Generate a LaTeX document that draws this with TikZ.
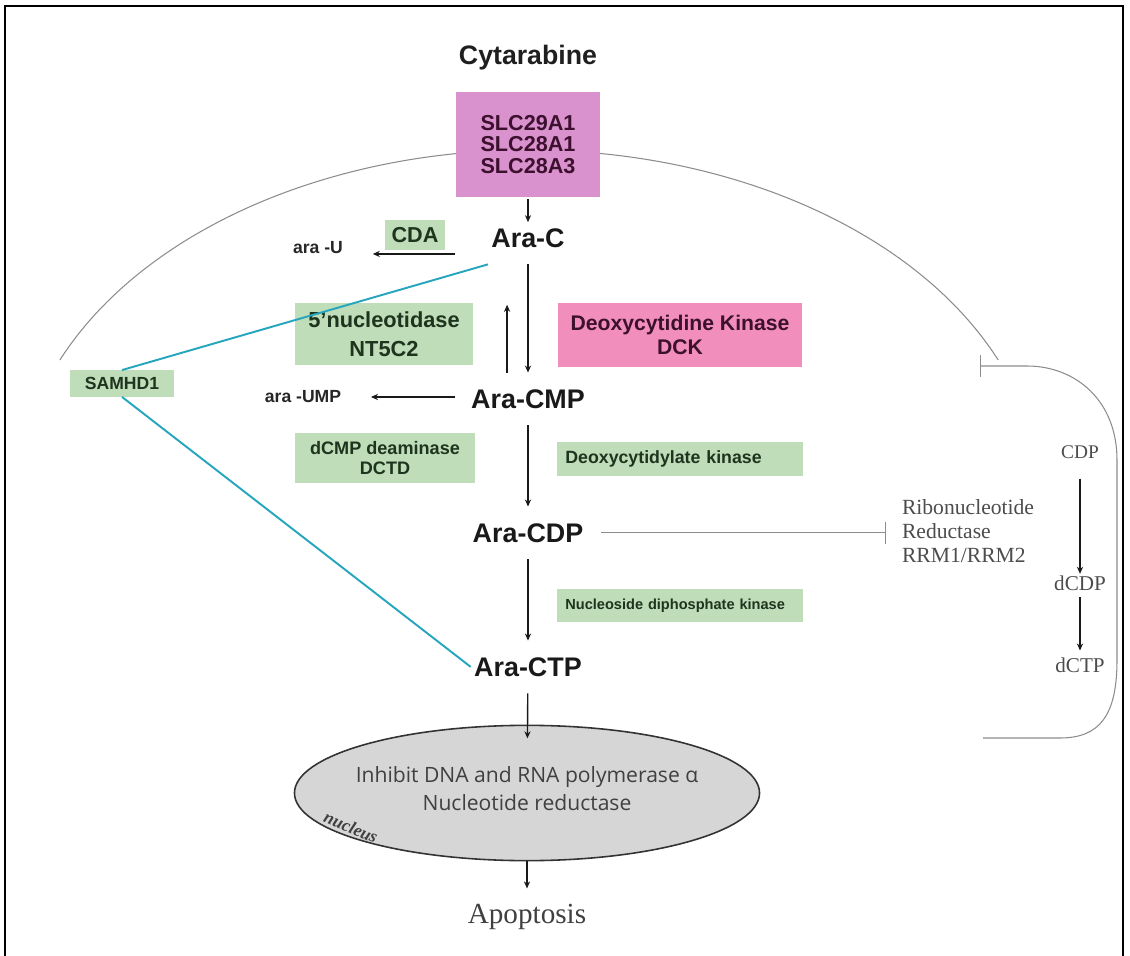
\documentclass[tikz,border=0pt]{standalone}
\usepackage{fontspec}
\setmainfont{Liberation Sans}
\newfontfamily\rmserif{Liberation Serif}
\newfontfamily\opensans{Open Sans}
\usepackage{tikz}
\usetikzlibrary{positioning, arrows.meta, shapes.geometric}
\definecolor{slcpink}{RGB}{217,146,205}
\definecolor{dckpink}{RGB}{242,142,187}
\definecolor{enzgreen}{RGB}{190,221,184}
\definecolor{pinktext}{RGB}{60,16,46}
\definecolor{greentext}{RGB}{30,52,30}
\definecolor{samcyan}{RGB}{38,166,190}
\definecolor{nucgray}{RGB}{214,214,214}
\tikzset{>={Stealth[length=4pt,width=3.5pt]},
         every node/.style={outer sep=0pt},
         mol/.style={font=\fontsize{15.3}{18}\selectfont\bfseries, text=black!90, inner xsep=2pt, inner ysep=9.6pt},
         sidetext/.style={font=\fontsize{10}{12}\selectfont\bfseries, text=black!85, inner sep=2pt},
         enzyme/.style={fill=enzgreen, text=greentext, align=center, inner sep=0pt},
         kinase/.style={fill=dckpink, text=pinktext, align=center, inner sep=0pt},
         rnrtext/.style={text=black!70, inner xsep=2pt, inner ysep=4pt},
         flowarrow/.style={->, line width=0.8pt, black!90},
         cycarrow/.style={->, line width=1.1pt, black!90},
         inhib/.style={-{Bar[width=12.5pt]}, line width=0.6pt, black!45},
         samline/.style={samcyan, line width=1.1pt},
         membrane/.style={black!45, line width=0.6pt},
         }

\begin{document}
\begin{tikzpicture}[x=0.02cm, y=0.02cm]
    \useasboundingbox (0,0) rectangle (1130,-956);
    \begin{scope}
        \clip (0,0) rectangle (1130,-956);
        \draw[line width=1.1pt] (5,-6) rectangle (1123,-975);
    \end{scope}
    \draw[membrane] (998.2,-360) arc[start angle=23.6, end angle=156.4, x radius=512, y radius=350];

    \node[font=\fontsize{15.2}{18}\selectfont\bfseries, text=black!88] (cyt) at (528,-58) {Cytarabine};
    \node[fill=slcpink, text=pinktext, align=center, inner sep=0pt, minimum width=81.6pt, minimum height=59.5pt,
          font=\fontsize{12.3}{12.2}\selectfont\bfseries] (slc) at (528,-144.5) {SLC29A1\\SLC28A1\\SLC28A3};

    \node[mol] (arac) at (528,-238) {Ara-C};
    \node[mol, below of=arac, node distance=3.22cm] (aracmp) {Ara-CMP};
    \node[mol, below of=aracmp, node distance=2.68cm] (aracdp) {Ara-CDP};
    \node[mol, below of=aracdp, node distance=2.68cm] (aractp) {Ara-CTP};

    \node[enzyme, minimum width=34pt, minimum height=17pt, font=\fontsize{12.3}{14}\selectfont\bfseries] (cda) at (415,-235) {CDA};
    \node[sidetext] (arau) at (318,-248) {ara -U};
    \node[enzyme, minimum width=101pt, minimum height=35pt, font=\fontsize{12.4}{16.4}\selectfont\bfseries] (nt5) at (384,-334) {5’nucleotidase\\NT5C2};
    \node[sidetext] (araump) at (303,-397) {ara -UMP};
    \node[enzyme, minimum width=102pt, minimum height=28.3pt, font=\fontsize{10.3}{11.9}\selectfont\bfseries] (dctd) at (385,-458) {dCMP deaminase\\DCTD};
    \node[kinase, minimum width=139pt, minimum height=36.3pt, font=\fontsize{12.05}{13.6}\selectfont\bfseries] (dck) at (680,-335) {Deoxycytidine Kinase\\DCK};
    \node[enzyme, align=left, text width=130.5pt, inner xsep=4.5pt, minimum height=19.3pt, font=\fontsize{10.1}{12}\selectfont\bfseries] (dcyk) at (680,-459) {Deoxycytidylate kinase};
    \node[enzyme, align=left, text width=130.5pt, inner xsep=4.5pt, minimum height=18.7pt, font=\fontsize{8.3}{10}\selectfont\bfseries] (ndpk) at (680,-605.5) {Nucleoside diphosphate kinase};
    \node[enzyme, minimum width=59.5pt, minimum height=15.3pt, font=\fontsize{10}{12}\selectfont\bfseries] (samhd) at (122,-383.5) {SAMHD1};

    \node[rnrtext, align=left, anchor=west, font=\rmserif\fontsize{12.3}{13.6}\selectfont] (rnred) at (898.5,-531) {Ribonucleotide\\Reductase\\RRM1/RRM2};
    \node[rnrtext, font=\rmserif\fontsize{11}{13}\selectfont] (cdp) at (1080,-452) {CDP};
    \node[rnrtext, font=\rmserif\fontsize{12}{14}\selectfont] (dcdp) at (1080,-583) {dCDP};
    \node[rnrtext, font=\rmserif\fontsize{12}{14}\selectfont] (dctp) at (1080,-665) {dCTP};

    \node[ellipse, draw=black!80, fill=nucgray, line width=0.9pt, minimum width=264.7pt, minimum height=77pt, inner sep=0pt] (nucl) at (527,-793) {};
    \node[align=center, text=black!75, inner sep=0pt, font=\opensans\fontsize{12}{16.4}\selectfont] (nuctext) at (527,-788.5) {Inhibit DNA and RNA polymerase α\\Nucleotide reductase};
    \node[rotate=-23, inner sep=0pt, text=black!75, font=\rmserif\itshape\bfseries\fontsize{10}{12}\selectfont] (nuclab) at (351,-827) {nucleus};
    \node[inner sep=0pt, text=black!75, font=\rmserif\fontsize{16.6}{20}\selectfont] (apop) at (527,-917) {Apoptosis};

    \draw[flowarrow, shorten <=1.5pt, shorten >=-6pt] (slc) -- (arac);
    \draw[flowarrow] (arac) -- (aracmp);
    \draw[flowarrow, shorten >=23pt] ([xshift=-11.9pt]aracmp.north) -- ([xshift=-11.9pt]arac.south);
    \draw[flowarrow] (aracmp) -- (aracdp);
    \draw[flowarrow] (aracdp) -- (aractp);
    \draw[flowarrow, shorten >=-7.4pt] (aractp) -- (nucl);
    \draw[flowarrow, shorten >=9pt] (nucl) -- (apop);
    \draw[flowarrow, shorten <=19pt, shorten >=15pt] (arac.west |- arau.base) -- (arau.base east);
    \draw[flowarrow, shorten <=7pt, shorten >=15pt] (aracmp.west |- araump.east) -- (araump.east);
    \draw[inhib, shorten <=8.2pt, shorten >=7pt] (aracdp.east) -- (aracdp.east -| rnred.west);
    \draw[cycarrow, shorten <=7.4pt, shorten >=-3pt] (cdp) -- (dcdp);
    \draw[cycarrow] (dcdp) -- (dctp);
    \draw[samline] (samhd.north) -- (arac.south west);
    \draw[samline] (samhd.south) -- (aractp.west);

    \coordinate (fbend) at (983,-738);
    \coordinate (fbbar) at (980,-366);
    \draw[inhib] (fbend) -- (1060,-738) .. controls (1100,-738) and (1117,-715) .. (1117,-660)
        -- (1117,-460) .. controls (1117,-400) and (1075,-366) .. (1027,-366) -- (fbbar);
\end{tikzpicture}
\end{document}
